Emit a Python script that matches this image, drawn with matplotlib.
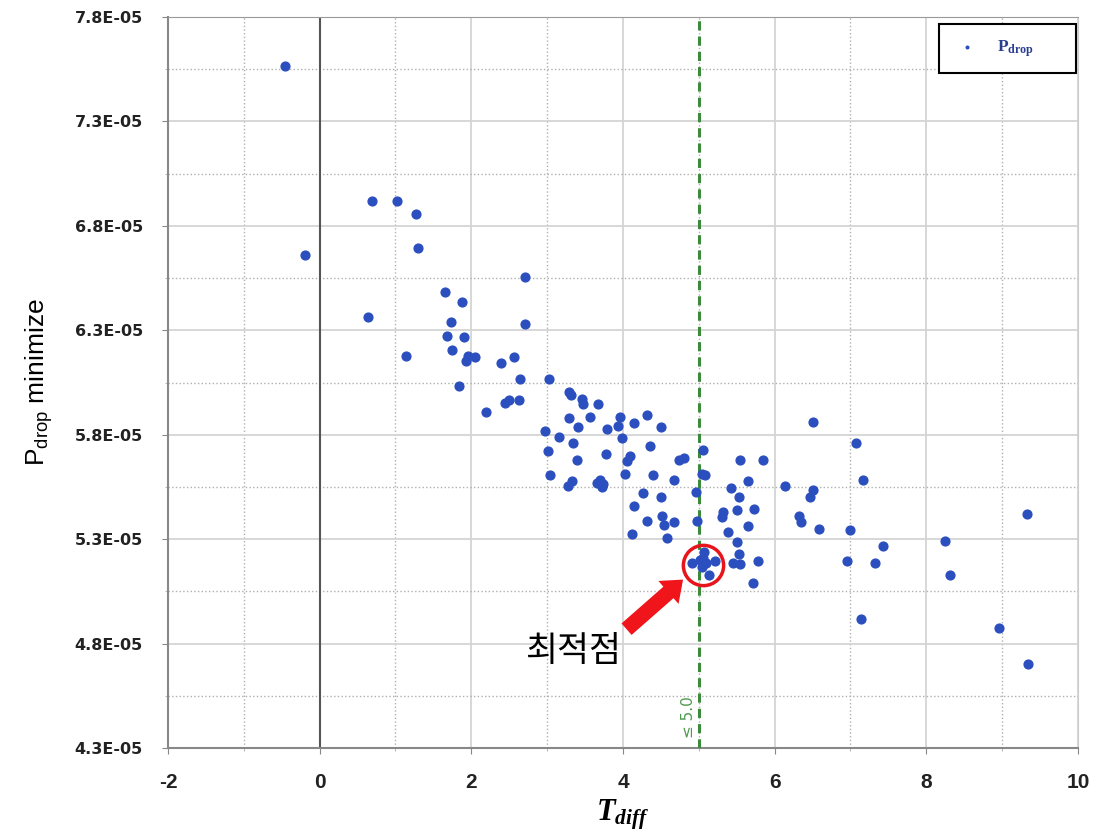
import matplotlib
matplotlib.use('Agg')
import matplotlib.pyplot as plt
from matplotlib.ticker import MultipleLocator, FixedLocator, FuncFormatter

# ── Data: T_diff vs pressure drop (x1e-5) ─────────────────────────────────
t_diff = [
    -0.46, -0.19, 0.64, 0.69, 1.02, 1.27, 1.30, 2.71, 1.65, 1.88,
    1.73, 2.71, 1.68, 1.91, 1.75, 1.14, 1.95, 1.93, 2.05, 2.39,
    2.56, 1.84, 2.64, 2.19, 2.45, 2.50, 2.63, 3.03, 3.29, 3.32,
    3.46, 3.47, 3.67, 3.29, 3.57, 3.41, 3.79, 3.96, 3.94, 4.15,
    4.32, 4.50, 2.97, 3.16, 3.34, 3.99, 4.36, 3.01, 3.77, 3.39,
    4.09, 4.05, 3.04, 4.03, 4.39, 4.74, 4.80, 4.67, 5.06, 5.04,
    5.08, 3.28, 3.33, 3.66, 3.70, 3.74, 3.72, 4.26, 4.50, 4.96,
    4.15, 4.32, 4.52, 4.54, 4.67, 4.98, 4.12, 4.58,
    4.91, 5.02, 5.07, 5.09, 5.04, 5.13, 5.22, 5.05, 5.06,
    6.51, 5.55, 5.85, 5.65, 5.43, 5.53, 6.14, 6.50, 6.47, 5.32,
    5.31, 5.51, 5.73, 6.32, 6.35, 5.65, 5.39, 6.58, 5.50, 5.53,
    5.45, 5.54, 5.78, 5.71, 6.99, 6.96, 7.07, 7.17, 9.33, 8.25,
    8.31, 7.43, 7.32, 7.14, 8.96, 9.34,
]
p_drop_e5 = [
    7.565, 6.659, 6.365, 6.917, 6.917, 6.858, 6.695, 6.556, 6.484, 6.435,
    6.341, 6.330, 6.274, 6.267, 6.204, 6.178, 6.176, 6.154, 6.172, 6.143,
    6.172, 6.034, 6.065, 5.910, 5.953, 5.967, 5.967, 6.065, 6.005, 5.991,
    5.972, 5.947, 5.945, 5.881, 5.883, 5.836, 5.825, 5.883, 5.840, 5.854,
    5.895, 5.836, 5.819, 5.787, 5.758, 5.782, 5.745, 5.723, 5.709, 5.680,
    5.697, 5.675, 5.608, 5.613, 5.607, 5.678, 5.688, 5.583, 5.726, 5.611,
    5.607, 5.555, 5.578, 5.570, 5.583, 5.563, 5.550, 5.519, 5.500, 5.524,
    5.458, 5.386, 5.412, 5.370, 5.380, 5.386, 5.325, 5.306,
    5.188, 5.199, 5.239, 5.184, 5.167, 5.128, 5.193, 5.210, 5.180,
    5.860, 5.680, 5.680, 5.578, 5.543, 5.503, 5.555, 5.535, 5.504, 5.428,
    5.404, 5.439, 5.445, 5.412, 5.380, 5.362, 5.334, 5.349, 5.284, 5.231,
    5.188, 5.180, 5.193, 5.091, 5.343, 5.193, 5.758, 5.583, 5.421, 5.289,
    5.126, 5.265, 5.186, 4.917, 4.875, 4.700,
]
p_drop = [v * 1e-5 for v in p_drop_e5]

# y ticks (x1e-5): major every 0.5 from 4.3, dotted minor halfway between
y_major_e5 = [4.3, 4.8, 5.3, 5.8, 6.3, 6.8, 7.3, 7.8]
y_minor_e5 = [4.55, 5.05, 5.55, 6.05, 6.55, 7.05, 7.55]

# optimum point and constraint
T_LIMIT = 5.0
opt_x, opt_y = 5.05, 5.176e-5

plt.rcParams['axes.unicode_minus'] = False
plt.rcParams['mathtext.fontset'] = 'custom'
plt.rcParams['mathtext.rm'] = 'Liberation Sans'
plt.rcParams['mathtext.it'] = 'Liberation Serif:italic:bold'
plt.rcParams['mathtext.bf'] = 'Liberation Serif:bold'

fig = plt.figure(figsize=(11.17, 8.39), dpi=100)
ax = fig.add_axes([0.1504, 0.1085, 0.8146, 0.8712])

ax.scatter(t_diff, p_drop, s=40, color='#2b4fbf', zorder=4,
           label=r'$\mathbf{P_{drop}}$')

ax.set_xlim(-2, 10)
ax.set_ylim(4.3e-5, 7.8e-5)
ax.xaxis.set_major_locator(MultipleLocator(2))
ax.xaxis.set_minor_locator(MultipleLocator(1))
ax.yaxis.set_major_locator(FixedLocator([v * 1e-5 for v in y_major_e5]))
ax.yaxis.set_minor_locator(FixedLocator([v * 1e-5 for v in y_minor_e5]))
ax.yaxis.set_major_formatter(FuncFormatter(lambda v, p: f'{v:.1E}'))

ax.grid(which='major', color='#d4d4d4', lw=1.3, ls='-', zorder=0)
ax.grid(which='minor', color='#b0b0b0', lw=1.0, ls=':', zorder=0)
ax.set_axisbelow(True)
ax.axvline(0, color='#555555', lw=1.5, zorder=1)

for s in ['left', 'bottom']:
    ax.spines[s].set_color('#888888')
    ax.spines[s].set_linewidth(1.5)
ax.spines['top'].set_color('#999999')
ax.spines['right'].set_color('#cccccc')

ax.tick_params(which='major', length=4, color='#888888')
ax.tick_params(which='minor', length=2, color='#aaaaaa')
ax.tick_params(axis='y', pad=14)
ax.tick_params(axis='x', pad=14)
for lbl in ax.get_yticklabels():
    lbl.set_fontfamily('DejaVu Sans')
    lbl.set_fontweight('bold')
    lbl.set_fontsize(11.5)
    lbl.set_color('#222222')
for lbl in ax.get_xticklabels():
    lbl.set_fontfamily('Liberation Sans')
    lbl.set_fontweight('bold')
    lbl.set_fontsize(15)
    lbl.set_color('#222222')

ax.set_xlabel(r'$T_{diff}$', fontsize=22, labelpad=4)
ax.set_ylabel(r'$\mathrm{P_{drop}}$ minimize', fontsize=19, labelpad=14,
              family='Liberation Sans')

# constraint line
ax.axvline(T_LIMIT, color='#3d8a3d', lw=2.2, ls=(0, (3, 2)), zorder=3)
ax.text(T_LIMIT - 0.14, 4.45e-5, '≤ 5.0', rotation=90, color='#4f9a4f',
        fontsize=11, ha='center', va='center')

# optimum marker, arrow and label
ax.plot([opt_x], [opt_y], 'o', ms=29, mfc='none', mec='#e8141b', mew=2.5,
        zorder=5)
ax.annotate('', xy=(4.82, 5.115e-5), xytext=(4.02, 4.86e-5),
            arrowprops=dict(arrowstyle='simple,head_width=2.2,head_length=1.4,tail_width=1.1',
                            fc='#f0141b', ec='#f0141b', lw=0))
ax.text(3.34, 4.76e-5, '최적점', fontsize=25, family='Noto Sans CJK KR',
        fontweight='medium', ha='center', va='center', color='black')

leg = ax.legend(loc='upper right', bbox_to_anchor=(1.0, 0.993),
                fancybox=False, edgecolor='black', framealpha=1,
                markerscale=0.3, borderpad=0.8, handlelength=1.6,
                handletextpad=0.9, fontsize=12.5, borderaxespad=0.1)
leg.get_frame().set_linewidth(1.5)
for txt in leg.get_texts():
    txt.set_color('#2b3f8f')
    txt.set_text(r'$\mathbf{P_{drop}}$' + '      ')

fig.savefig('out.png', dpi=100)
